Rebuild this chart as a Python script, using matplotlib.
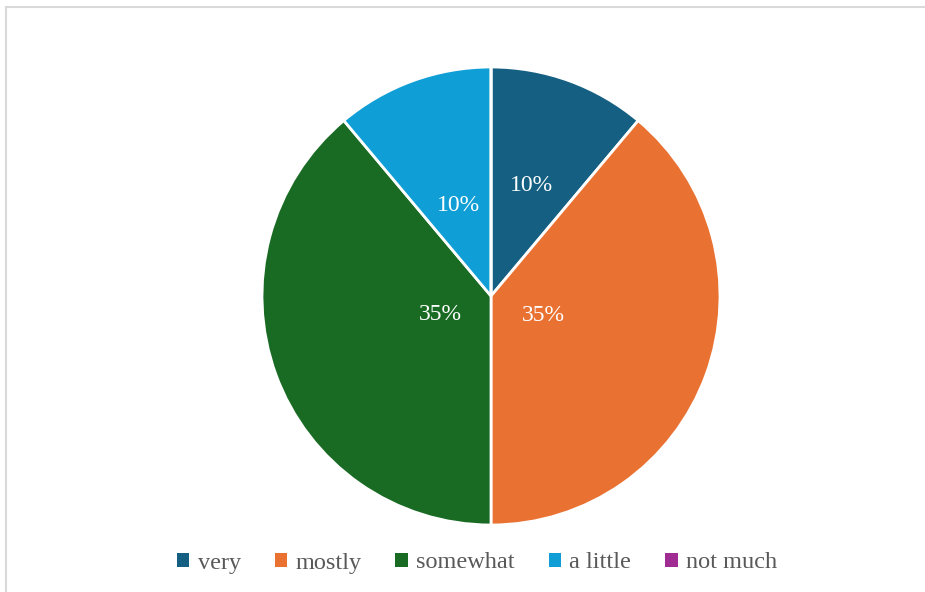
import numpy as np
import matplotlib.pyplot as plt
from matplotlib.patches import Patch
from matplotlib.lines import Line2D

categories = ["very", "mostly", "somewhat", "a little", "not much"]
values = [10, 35, 35, 10, 0]
labels = ["10%", "35%", "35%", "10%", ""]
colors = ["#156082", "#E97132", "#196B24", "#0F9ED5", "#A02B93"]
# radial position of each data label (fraction of radius)
label_dist = [0.515, 0.245, 0.235, 0.42, 0.5]

plt.rcParams["font.family"] = ["Liberation Serif", "DejaVu Serif"]

W, H = 925, 592
fig = plt.figure(figsize=(W / 100, H / 100), dpi=100)

cx, cy, r = 491, 296, 229
ax = fig.add_axes([(cx - r) / W, (H - cy - r) / H, 2 * r / W, 2 * r / H])

wedges, _ = ax.pie(
    values,
    colors=colors,
    startangle=90,
    counterclock=False,
    wedgeprops=dict(edgecolor="white", linewidth=2),
)
ax.set_aspect("equal")
ax.set_xlim(-1, 1)
ax.set_ylim(-1, 1)

for w, lab, d in zip(wedges, labels, label_dist):
    if not lab:
        continue
    mid = np.deg2rad((w.theta1 + w.theta2) / 2)
    ax.text(d * np.cos(mid), d * np.sin(mid), lab, color="white",
            fontsize=17, ha="center", va="center")

handles = [Patch(facecolor=c, edgecolor="none") for c in colors]
fig.legend(handles, categories, loc="center", bbox_to_anchor=(477 / W, (H - 563) / H),
           ncol=5, frameon=False, fontsize=17.5, handlelength=0.5, handleheight=0.5,
           handletextpad=0.35, columnspacing=1.4, labelcolor="#595959")

# chart border (only left and top edges visible)
fig.add_artist(Line2D([6 / W, 6 / W], [0, 1 - 7 / H], color="#D9D9D9", lw=1.5))
fig.add_artist(Line2D([6 / W, 1], [1 - 7 / H, 1 - 7 / H], color="#D9D9D9", lw=1.5))

fig.savefig("out.png", dpi=100)
